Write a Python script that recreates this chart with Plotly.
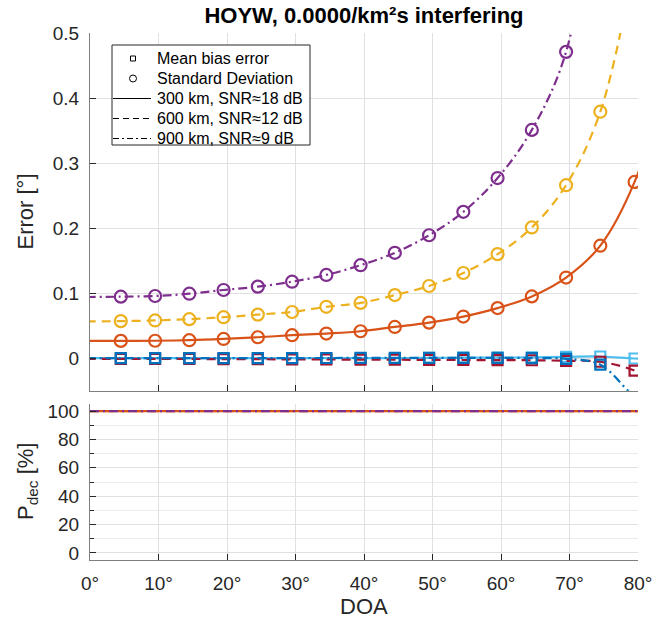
import plotly.graph_objects as go

# Direction of arrival of the simulated points (degrees)
doa = [4.5, 9.5, 14.5, 19.5, 24.5, 29.5, 34.5, 39.5,
       44.5, 49.5, 54.5, 59.5, 64.5, 69.5, 74.5, 79.5]

# Standard deviation of the DOA estimate (degrees)
std_300km = [0.0266, 0.0268, 0.0277, 0.0296, 0.0322, 0.0353, 0.0379, 0.0414,
             0.0480, 0.0547, 0.0640, 0.0770, 0.0950, 0.1240, 0.1730, 0.2710]
std_600km = [0.0570, 0.0580, 0.0600, 0.0630, 0.0670, 0.0710, 0.0790, 0.0850,
             0.0970, 0.1110, 0.1310, 0.1600, 0.2010, 0.2660, 0.3790, None]
std_900km = [0.0946, 0.0956, 0.0992, 0.1048, 0.1100, 0.1176, 0.1280, 0.1430,
             0.1620, 0.1890, 0.2250, 0.2770, 0.3510, 0.4710, None, None]

# Mean bias error (degrees)
bias_300km = [0.0000, 0.0000, 0.0000, 0.0000, 0.0000, 0.0000, 0.0000, 0.0000,
              0.0000, 0.0005, 0.0008, 0.0010, 0.0012, 0.0020, 0.0026, -0.0005]
bias_600km = [-0.0010, -0.0010, -0.0012, -0.0014, -0.0016, -0.0018, -0.0020, -0.0022,
              -0.0024, -0.0026, -0.0028, -0.0030, -0.0032, -0.0040, -0.0055, -0.0190]
bias_900km = [0.0002, 0.0002, 0.0002, 0.0002, 0.0002, 0.0002, 0.0003, 0.0004,
              0.0005, 0.0006, 0.0006, 0.0005, 0.0002, -0.0010, -0.0100, -0.0600]

# Continuous curves: the simulated points plus the curve values read just
# outside the axes on both sides (clipped by the axes)
curve_x = [-0.5] + doa + [84.5]
curve_std_300 = [0.0265] + std_300km + [0.4400]
curve_x_600 = [-0.5] + doa
curve_std_600 = [0.0565] + std_600km[:15] + [0.6100]
curve_x_900 = [-0.5] + doa[:15]
curve_std_900 = [0.0940] + std_900km[:14] + [0.7800]

curve_bias_300 = [0.0000] + bias_300km + [-0.0020]
curve_bias_600 = [-0.0010] + bias_600km + [-0.0450]
curve_bias_900 = [0.0002] + bias_900km + [-0.1000]

# Probability of detection (%)
pdec_x = [0.0] + doa + [80.0]
pdec_300km = [100, 100, 100, 100, 100, 100, 100, 100, 100,
              100, 100, 100, 100, 100, 100, 100, 100, 100]
pdec_600km = [100, 100, 100, 100, 100, 100, 100, 100, 100,
              100, 100, 100, 100, 100, 100, 100, 100, 100]
pdec_900km = [100, 100, 100, 100, 100, 100, 100, 100, 100,
              100, 100, 100, 100, 100, 100, 100, 100, 100]

x_ticks = [0, 10, 20, 30, 40, 50, 60, 70, 80]
x_tick_text = ["0°", "10°", "20°", "30°", "40°", "50°", "60°", "70°", "80°"]

legend_labels = ["Mean bias error", "Standard Deviation",
                 "300 km, SNR≈18 dB", "600 km, SNR≈12 dB", "900 km, SNR≈9 dB"]

ORANGE = "#D95319"
YELLOW = "#EDB120"
PURPLE = "#7E2F8E"
LIGHTBLUE = "#4DBEEE"
DARKRED = "#A2142F"
BLUE = "#0072BD"

DASH = "9px,6px"
DASHDOT = "9px,4px,2px,4px"
LW = 2.2
FONT = "Liberation Sans, Arial, sans-serif"
TXT = "#262626"

W, H = 670, 619
ML, MR, MT, MB = 90, 32, 33, 59
pw = W - ML - MR
ph = H - MT - MB


def px(xp):
    return (xp - ML) / pw


def py(yp):
    return (H - MB - yp) / ph


fig = go.Figure()


def curve(x, y, color, dash):
    fig.add_trace(go.Scatter(
        x=x, y=y, mode="lines", showlegend=False, hoverinfo="skip",
        line=dict(color=color, width=LW, dash=dash, shape="spline", smoothing=1.0)))


def marks(x, y, color, symbol, size):
    fig.add_trace(go.Scatter(
        x=x, y=y, mode="markers", showlegend=False,
        marker=dict(symbol=symbol, size=size, color=color,
                    line=dict(color=color, width=2.2))))


# Standard deviation curves with circle markers
curve(curve_x, curve_std_300, ORANGE, "solid")
marks(doa, std_300km, ORANGE, "circle-open", 12)
curve(curve_x_600, curve_std_600, YELLOW, DASH)
marks(doa, std_600km, YELLOW, "circle-open", 12)
curve(curve_x_900, curve_std_900, PURPLE, DASHDOT)
marks(doa, std_900km, PURPLE, "circle-open", 12)

# Mean bias curves with square markers
curve(curve_x, curve_bias_300, LIGHTBLUE, "solid")
marks(doa, bias_300km, LIGHTBLUE, "square-open", 10)
curve(curve_x, curve_bias_600, DARKRED, DASH)
marks(doa, bias_600km, DARKRED, "square-open", 10)
curve(curve_x, curve_bias_900, BLUE, DASHDOT)
marks(doa, bias_900km, BLUE, "square-open", 10)

# Detection probability panel
for vals, col, dash in [(pdec_600km, YELLOW, DASH),
                        (pdec_300km, ORANGE, "solid"),
                        (pdec_900km, PURPLE, DASHDOT)]:
    fig.add_trace(go.Scatter(
        x=pdec_x, y=vals, mode="lines", xaxis="x2", yaxis="y2", showlegend=False,
        line=dict(color=col, width=LW, dash=dash)))

axis_common = dict(
    showline=True, linecolor="#7f7f7f", linewidth=1, mirror=False,
    ticks="inside", ticklen=6, tickwidth=1, tickcolor="#262626",
    gridcolor="#e0e0e0", gridwidth=1, zeroline=False,
    tickfont=dict(family=FONT, size=19, color=TXT),
)

top_lo = py(390.7)
bot_hi = py(404)

# Legend box drawn in pixel positions
shapes = [dict(type="rect", xref="paper", yref="paper",
               x0=px(112), x1=px(310), y0=py(145), y1=py(45),
               fillcolor="white", line=dict(color="#262626", width=1), layer="above")]
rows = [58.5, 78.5, 98.5, 118.5, 138.5]
shapes.append(dict(type="rect", xref="paper", yref="paper",
                   x0=px(130.5), x1=px(135.5), y0=py(rows[0] + 2.5), y1=py(rows[0] - 2.5),
                   line=dict(color="black", width=1), fillcolor="rgba(0,0,0,0)",
                   layer="above"))
shapes.append(dict(type="circle", xref="paper", yref="paper",
                   x0=px(129.5), x1=px(136.5), y0=py(rows[1] + 3.5), y1=py(rows[1] - 3.5),
                   line=dict(color="black", width=1), fillcolor="rgba(0,0,0,0)",
                   layer="above"))
for r, dash in zip(rows[2:], ["solid", "6px,4px", "6px,3px,2px,3px"]):
    shapes.append(dict(type="line", xref="paper", yref="paper",
                       x0=px(113), x1=px(151), y0=py(r), y1=py(r),
                       line=dict(color="black", width=1.2, dash=dash), layer="above"))

annotations = []
for r, label in zip(rows, legend_labels):
    annotations.append(dict(text=label, xref="paper", yref="paper", x=px(154.5), y=py(r),
                            xanchor="left", yanchor="middle", showarrow=False,
                            font=dict(family=FONT, size=16, color="#000000")))

# Axis labels
annotations.append(dict(text="Error [°]", xref="paper", yref="paper",
                        x=px(25), y=py(211.5), textangle=-90, showarrow=False,
                        xanchor="center", yanchor="middle",
                        font=dict(family=FONT, size=22, color=TXT)))
annotations.append(dict(text="P<sub>dec</sub> [%]", xref="paper", yref="paper",
                        x=px(27), y=py(482), textangle=-90, showarrow=False,
                        xanchor="center", yanchor="middle",
                        font=dict(family=FONT, size=22, color=TXT)))
annotations.append(dict(text="DOA", xref="paper", yref="paper",
                        x=0.5, y=py(606), showarrow=False,
                        xanchor="center", yanchor="middle",
                        font=dict(family=FONT, size=22, color=TXT)))

fig.update_layout(
    width=W, height=H,
    margin=dict(l=ML, r=MR, t=MT, b=MB, pad=0),
    paper_bgcolor="white", plot_bgcolor="white",
    font=dict(family=FONT, color=TXT),
    showlegend=False,
    title=dict(text="<b>HOYW, 0.0000/km²s interfering</b>",
               font=dict(family=FONT, size=22, color="#000000"),
               x=0.5, xref="paper", xanchor="center",
               y=1 - 15 / H, yref="container", yanchor="middle"),
    xaxis=dict(axis_common, domain=[0, 1], range=[0, 80], anchor="y",
               tickvals=x_ticks, showticklabels=False),
    yaxis=dict(axis_common, domain=[top_lo, 1], range=[-0.05, 0.5], anchor="x",
               tickvals=[0, 0.1, 0.2, 0.3, 0.4, 0.5],
               ticktext=["0", "0.1", "0.2", "0.3", "0.4", "0.5"],
               ticklabelstandoff=6),
    xaxis2=dict(axis_common, domain=[0, 1], range=[0, 80], anchor="y2",
                tickvals=x_ticks, ticktext=x_tick_text, ticklabelstandoff=6),
    yaxis2=dict(axis_common, domain=[0, bot_hi], range=[-5, 105], anchor="x2",
                tickvals=[0, 20, 40, 60, 80, 100], ticklabelstandoff=6,
                minor=dict(tickvals=[10, 30, 50, 70, 90], ticks="inside", ticklen=4,
                           showgrid=True, gridcolor="#ececec", tickcolor="#262626")),
    shapes=shapes,
    annotations=annotations,
)

fig.write_html("out.html")
